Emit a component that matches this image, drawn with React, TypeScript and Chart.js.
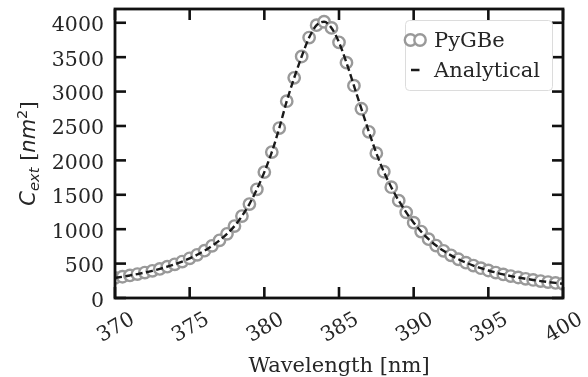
import React, { useEffect, useRef } from "react";
import { Chart, registerables } from "chart.js";

Chart.register(...registerables);

const wavelengths = [
  370, 370.5, 371, 371.5, 372, 372.5, 373, 373.5, 374, 374.5,
  375, 375.5, 376, 376.5, 377, 377.5, 378, 378.5, 379, 379.5,
  380, 380.5, 381, 381.5, 382, 382.5, 383, 383.5, 384, 384.5,
  385, 385.5, 386, 386.5, 387, 387.5, 388, 388.5, 389, 389.5,
  390, 390.5, 391, 391.5, 392, 392.5, 393, 393.5, 394, 394.5,
  395, 395.5, 396, 396.5, 397, 397.5, 398, 398.5, 399, 399.5,
  400,
];

const pygbeValues = [
  292, 309, 328, 348, 370, 395, 423, 455, 490, 530,
  577, 628, 688, 758, 838, 932, 1045, 1190, 1365, 1580,
  1830, 2120, 2470, 2860, 3200, 3510, 3785, 3965, 4015, 3925,
  3715, 3420, 3085, 2750, 2415, 2105, 1835, 1610, 1415, 1245,
  1095, 965, 855, 762, 685, 620, 563, 514, 471, 433,
  400, 370, 343, 319, 298, 279, 262, 246, 232, 219,
  207,
];

const analyticalValues = [
  292, 309, 328, 348, 370, 395, 423, 455, 490, 530,
  577, 628, 688, 758, 838, 932, 1045, 1190, 1365, 1580,
  1830, 2120, 2470, 2860, 3200, 3510, 3785, 3965, 4015, 3925,
  3715, 3420, 3085, 2750, 2415, 2105, 1835, 1610, 1415, 1245,
  1095, 965, 855, 762, 685, 620, 563, 514, 471, 433,
  400, 370, 343, 319, 298, 279, 262, 246, 232, 219,
  207,
];

const xTicks = [370, 375, 380, 385, 390, 395, 400];
const yTicks = [0, 500, 1000, 1500, 2000, 2500, 3000, 3500, 4000];
const xTitle = "Wavelength [nm]";
const legendLabels = ["PyGBe", "Analytical"];

const SERIF = '"DejaVu Serif", serif';
const SANS = '"DejaVu Sans", sans-serif';
const TEXT = "#262626";
const MARKER = "#999999";

const decorPlugin = {
  id: "decor",
  afterDraw(chart: any) {
    const { ctx, chartArea: a, scales } = chart;
    const x = scales.x;
    const y = scales.y;
    ctx.save();
    ctx.strokeStyle = "#111";
    ctx.lineWidth = 2.6;
    const L = 11;
    const line = (x1: number, y1: number, x2: number, y2: number) => {
      ctx.beginPath();
      ctx.moveTo(x1, y1);
      ctx.lineTo(x2, y2);
      ctx.stroke();
    };
    for (const v of xTicks) {
      const px = x.getPixelForValue(v);
      line(px, a.bottom, px, a.bottom - L);
      line(px, a.top, px, a.top + L);
    }
    for (const v of yTicks) {
      const py = y.getPixelForValue(v);
      line(a.left, py, a.left + L, py);
      line(a.right, py, a.right - L, py);
    }
    ctx.lineWidth = 2.8;
    ctx.strokeRect(a.left, a.top, a.right - a.left, a.bottom - a.top);

    ctx.fillStyle = TEXT;
    ctx.font = `20.5px ${SERIF}`;
    ctx.textAlign = "right";
    ctx.textBaseline = "alphabetic";
    for (const v of yTicks) {
      const py = y.getPixelForValue(v);
      ctx.fillText(String(v), a.left - 11, py + 8.5);
    }
    ctx.textAlign = "center";
    for (const v of xTicks) {
      const px = x.getPixelForValue(v);
      ctx.save();
      ctx.translate(px, 326);
      ctx.rotate(-Math.PI / 6);
      ctx.fillText(String(v), 0, 7.5);
      ctx.restore();
    }

    ctx.font = `21px ${SERIF}`;
    ctx.textAlign = "center";
    ctx.fillText(xTitle, (a.left + a.right) / 2, 372);

    ctx.save();
    ctx.translate(35, (a.top + a.bottom) / 2);
    ctx.rotate(-Math.PI / 2);
    ctx.textAlign = "left";
    const parts = [
      { t: "C", f: `italic 21px ${SANS}`, dy: 0 },
      { t: "ext", f: `italic 14.7px ${SANS}`, dy: 3.5 },
      { t: " [", f: `21px ${SERIF}`, dy: 0 },
      { t: "nm", f: `italic 21px ${SANS}`, dy: 0 },
      { t: "2", f: `14.7px ${SANS}`, dy: -8.5 },
      { t: "]", f: `21px ${SERIF}`, dy: 0 },
    ];
    let total = 0;
    const widths: number[] = [];
    for (const p of parts) {
      ctx.font = p.f;
      const w = ctx.measureText(p.t).width;
      widths.push(w);
      total += w;
    }
    let cx = -total / 2;
    parts.forEach((p, i) => {
      ctx.font = p.f;
      ctx.fillText(p.t, cx, p.dy);
      cx += widths[i];
    });
    ctx.restore();

    ctx.beginPath();
    ctx.roundRect(405.5, 20.5, 147, 70, 4);
    ctx.fillStyle = "rgba(255,255,255,0.8)";
    ctx.fill();
    ctx.strokeStyle = "#dcdcdc";
    ctx.lineWidth = 1;
    ctx.stroke();

    for (const cxm of [410.5, 420]) {
      ctx.beginPath();
      ctx.arc(cxm, 40, 5.7, 0, Math.PI * 2);
      ctx.fillStyle = "#fff";
      ctx.fill();
      ctx.strokeStyle = MARKER;
      ctx.lineWidth = 2.4;
      ctx.stroke();
    }
    ctx.strokeStyle = "#1a1a1a";
    ctx.lineWidth = 2.5;
    line(411, 70, 419.5, 70);

    ctx.fillStyle = TEXT;
    ctx.font = `21px ${SERIF}`;
    ctx.textAlign = "left";
    ctx.fillText(legendLabels[0], 434, 47);
    ctx.fillText(legendLabels[1], 434, 77);

    ctx.restore();
  },
};

export default function App() {
  const ref = useRef<HTMLCanvasElement>(null);
  useEffect(() => {
    document.body.style.margin = "0";
    const canvas = ref.current!;
    const chart = new Chart(canvas, {
      type: "line",
      data: {
        datasets: [
          {
            label: legendLabels[1],
            data: wavelengths.map((w, i) => ({ x: w, y: analyticalValues[i] })),
            borderColor: "#1a1a1a",
            borderWidth: 2.4,
            borderDash: [7, 3.5],
            pointRadius: 0,
            fill: false,
            order: 0,
            clip: 0,
            cubicInterpolationMode: "monotone",
          } as any,
          {
            label: legendLabels[0],
            data: wavelengths.map((w, i) => ({ x: w, y: pygbeValues[i] })),
            showLine: false,
            pointRadius: 5.7,
            pointBorderWidth: 2.4,
            pointBorderColor: MARKER,
            pointBackgroundColor: "#fff",
            order: 1,
            clip: 0,
          } as any,
        ],
      },
      options: {
        responsive: false,
        animation: false,
        layout: { padding: { left: 0, right: 25, top: 9, bottom: 0 } },
        scales: {
          x: {
            type: "linear",
            min: 370,
            max: 400,
            grid: { display: false },
            ticks: { display: false },
            border: { display: false },
            afterFit: (s: any) => {
              s.height = 79;
            },
          },
          y: {
            type: "linear",
            min: 0,
            max: 4200,
            grid: { display: false },
            ticks: { display: false },
            border: { display: false },
            afterFit: (s: any) => {
              s.width = 115;
            },
          },
        },
        plugins: {
          legend: { display: false },
          tooltip: { enabled: false },
        },
      } as any,
      plugins: [decorPlugin],
    });
    return () => chart.destroy();
  }, []);
  return (
    <canvas
      ref={ref}
      width={588}
      height={377}
      style={{ display: "block", width: 588, height: 377 }}
    />
  );
}
